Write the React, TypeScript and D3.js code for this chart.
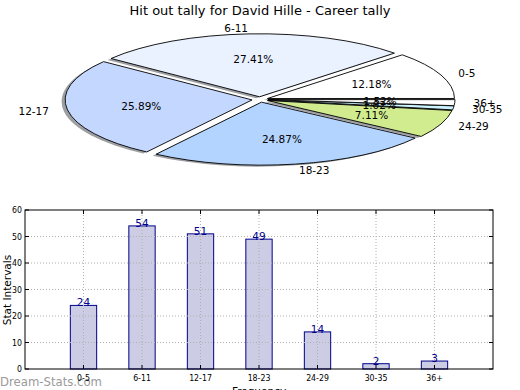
import React from "react";
import * as d3 from "d3";

const categories = ["0-5", "6-11", "12-17", "18-23", "24-29", "30-35", "36+"];
const values = [24, 54, 51, 49, 14, 2, 3];
const pieColors = ["#ffffff", "#eaf1ff", "#c4d8ff", "#b3d4ff", "#d0ec8f", "#ccf4ff", "#ffffff"];
const yTicks = [0, 10, 20, 30, 40, 50, 60];
const title = "Hit out tally for David Hille - Career tally";

const W = 520, H = 390;
const cx = 260, cy = 99.5, rx = 187, ry = 63, explode = 0.043;
const tickFont = "DejaVu Sans Condensed, DejaVu Sans";

export default function App() {
  const total = d3.sum(values);
  const pie = d3.pie<number>().sort(null).value((d) => d).startAngle(Math.PI / 2).endAngle(Math.PI / 2 - 2 * Math.PI);
  const arcs = pie(values);
  const arcGen = d3.arc<any>().innerRadius(0).outerRadius(1);

  const slices = arcs.map((a, i) => {
    const mid = (a.startAngle + a.endAngle) / 2;
    const th = Math.PI / 2 - mid;
    const ux = Math.cos(th), uy = -Math.sin(th);
    const ox = cx + explode * rx * ux, oy = cy + explode * ry * uy;
    return { a, i, ux, uy, ox, oy };
  });

  const x = d3.scaleLinear().domain([-1, 7]).range([25, 493]);
  const y = d3.scaleLinear().domain([0, 60]).range([369, 210]);
  const bw = x(0.45) - x(0);

  return (
    <svg width={W} height={H} style={{ position: "absolute", left: 0, top: 0, background: "#fff" }} fontFamily="DejaVu Sans">
      <rect width={W} height={H} fill="#fff" />
      <text x={260} y={10} textAnchor="middle" dominantBaseline="central" fontSize={13} fill="#000">{title}</text>
      {slices.map((s) => (
        <path key={"sh" + s.i}
          transform={`translate(${s.ox - 3.5},${s.oy + 1.5}) scale(${rx},${ry})`}
          d={arcGen(s.a) as string} fill="#3c3f48" fillOpacity={0.5} stroke="none" />
      ))}
      {slices.map((s) => (
        <path key={"sl" + s.i}
          transform={`translate(${s.ox},${s.oy}) scale(${rx},${ry})`}
          d={arcGen(s.a) as string} fill={pieColors[s.i]} stroke="#000" strokeWidth={0.9}
          style={{ vectorEffect: "non-scaling-stroke" } as any} />
      ))}
      {slices.map((s) => (
        <text key={"lb" + s.i} x={s.ox + 1.1 * rx * s.ux} y={s.oy + 1.1 * ry * s.uy}
          textAnchor={s.ux > 0 ? "start" : "end"} dominantBaseline="central" fontSize={10.5} fill="#000">
          {categories[s.i]}
        </text>
      ))}
      {slices.map((s) => (
        <text key={"pc" + s.i} x={s.ox + 0.6 * rx * s.ux} y={s.oy + 0.6 * ry * s.uy}
          textAnchor="middle" dominantBaseline="central" fontSize={10.5} fill="#000">
          {((values[s.i] / total) * 100).toFixed(2) + "%"}
        </text>
      ))}

      <text x={0} y={381} fontSize={13} fill="#9a9a9a" dominantBaseline="central" textLength={102} lengthAdjust="spacingAndGlyphs">Dream-Stats.com</text>
      {values.map((v, i) => (
        <rect key={"b" + i} x={x(i) - bw / 2} y={y(v)} width={bw} height={y(0) - y(v)} fill="#ccccE4" stroke="#00008b" strokeWidth={1} />
      ))}
      {yTicks.slice(1, -1).map((t) => (
        <line key={"gy" + t} x1={x(-1)} x2={x(7)} y1={y(t)} y2={y(t)} stroke="#b0b0b0" strokeWidth={1} strokeDasharray="1,2" />
      ))}
      {categories.map((c, i) => (
        <line key={"gx" + i} x1={x(i)} x2={x(i)} y1={y(0)} y2={y(60)} stroke="#b0b0b0" strokeWidth={1} strokeDasharray="1,2" />
      ))}
      {yTicks.map((t) => (
        <g key={"ty" + t}>
          <line x1={x(-1)} x2={x(-1) + 4} y1={y(t)} y2={y(t)} stroke="#000" />
          <line x1={x(7)} x2={x(7) - 4} y1={y(t)} y2={y(t)} stroke="#000" />
          <text x={x(-1) - 3} y={y(t)} textAnchor="end" dominantBaseline="central" fontSize={8.7} fontFamily={tickFont} fill="#000">{t}</text>
        </g>
      ))}
      {categories.map((c, i) => (
        <g key={"tx" + i}>
          <line x1={x(i)} x2={x(i)} y1={y(0)} y2={y(0) - 4} stroke="#000" />
          <line x1={x(i)} x2={x(i)} y1={y(60)} y2={y(60) + 4} stroke="#000" />
          <text x={x(i)} y={377.5} textAnchor="middle" dominantBaseline="central" fontSize={8.7} fontFamily={tickFont} fill="#000">{c}</text>
        </g>
      ))}
      <rect x={x(-1)} y={y(60)} width={x(7) - x(-1)} height={y(0) - y(60)} fill="none" stroke="#000" strokeWidth={1} />
      {values.map((v, i) => (
        <text key={"v" + i} x={x(i)} y={y(v) + 1} textAnchor="middle" fontSize={10.5} fill="#00008b">{v}</text>
      ))}
      <text transform={`translate(7,290) rotate(-90)`} textAnchor="middle" dominantBaseline="central" fontSize={10.5} fill="#000">Stat Intervals</text>
      <text x={259} y={391} textAnchor="middle" fontSize={10.5} fill="#000" dominantBaseline="central">Frequency</text>
    </svg>
  );
}
